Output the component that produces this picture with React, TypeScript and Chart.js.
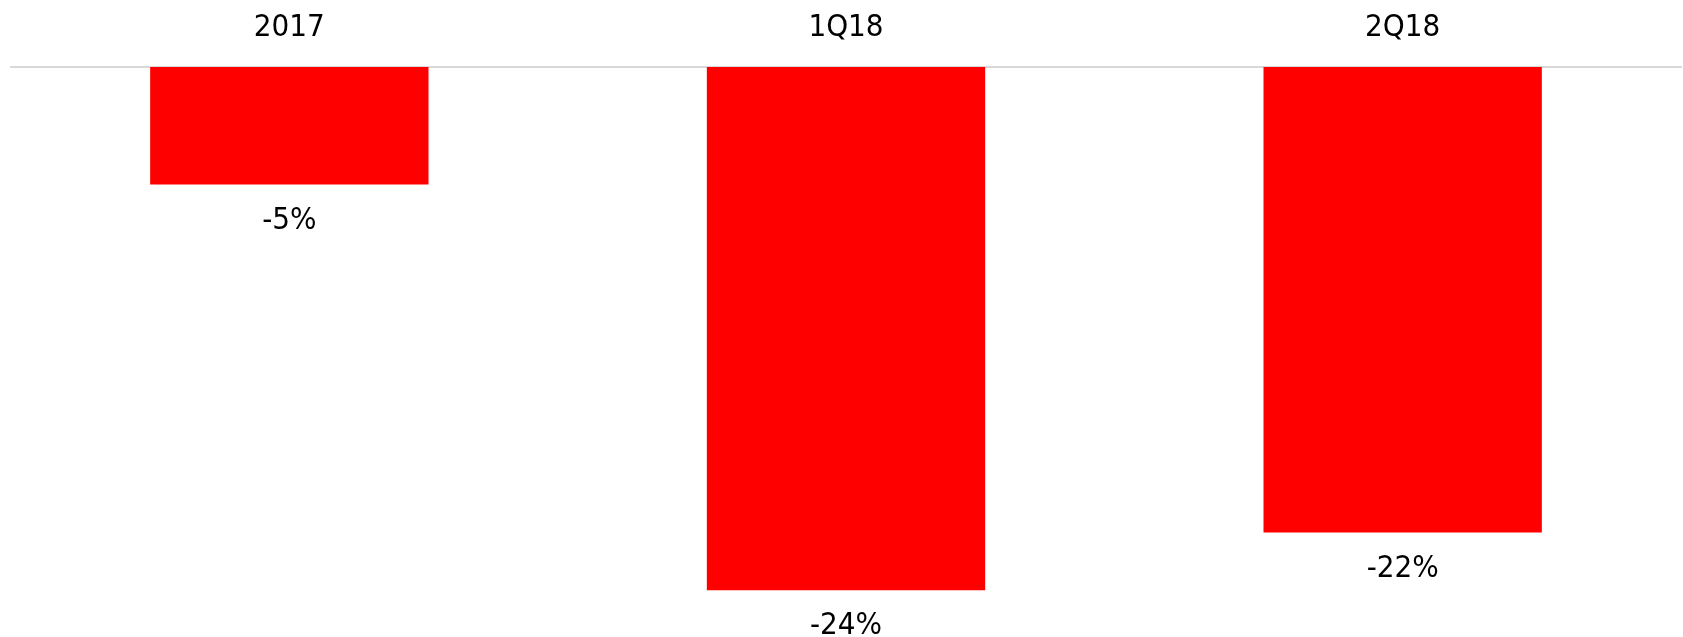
import React, { useEffect, useRef } from "react";
import { Chart, registerables } from "chart.js";

Chart.register(...registerables);

const categories = ["2017", "1Q18", "2Q18"];
const values = [-5.4, -24.05, -21.4];
const valueLabels = ["-5%", "-24%", "-22%"];

const FONT = "'DejaVu Sans Condensed', 'DejaVu Sans', sans-serif";

const labelPlugin = {
  id: "barLabels",
  afterDatasetsDraw(chart: any) {
    const ctx = chart.ctx;
    const meta = chart.getDatasetMeta(0);
    ctx.save();
    ctx.font = `31px ${FONT}`;
    ctx.fillStyle = "#000000";
    ctx.textAlign = "center";
    ctx.textBaseline = "middle";
    meta.data.forEach((bar: any, i: number) => {
      ctx.fillText(valueLabels[i], bar.x, bar.y + 36);
    });
    ctx.restore();
  },
};

export default function App() {
  const ref = useRef<HTMLCanvasElement>(null);
  useEffect(() => {
    if (!ref.current) return;
    const chart = new Chart(ref.current, {
      type: "bar",
      data: {
        labels: categories,
        datasets: [
          {
            data: values,
            backgroundColor: "#ff0000",
            borderWidth: 0,
            categoryPercentage: 1,
            barPercentage: 0.5,
          },
        ],
      },
      options: {
        animation: false,
        responsive: false,
        maintainAspectRatio: false,
        layout: { padding: { left: 11, right: 2, top: 0, bottom: 0 } },
        plugins: {
          legend: { display: false },
          tooltip: { enabled: false },
        },
        scales: {
          x: {
            position: "top",
            grid: { display: false, drawTicks: false },
            border: { display: true, color: "#d9d9d9", width: 2 },
            ticks: {
              padding: 20,
              color: "#000000",
              font: { family: FONT, size: 31 },
              maxRotation: 0,
            },
            afterFit: (s: any) => {
              s.height = 67;
            },
          },
          y: {
            display: false,
            min: -26.2,
            max: 0,
          },
        },
      },
      plugins: [labelPlugin],
    });
    return () => chart.destroy();
  }, []);
  return (
    <div style={{ position: "absolute", left: 0, top: 0, width: 1683, height: 637 }}>
      <canvas ref={ref} width={1683} height={637} style={{ width: 1683, height: 637, display: "block" }} />
    </div>
  );
}
